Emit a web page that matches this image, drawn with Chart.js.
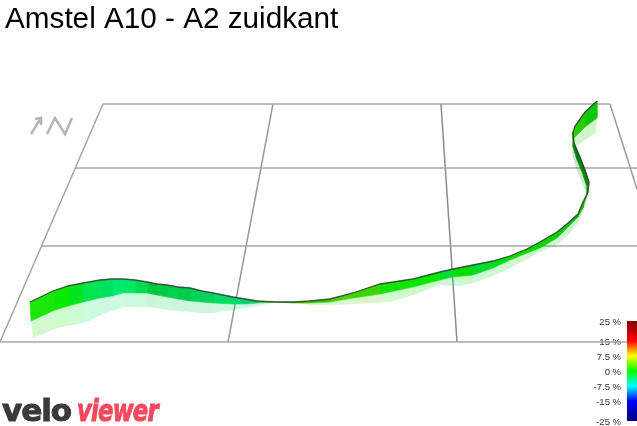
<!DOCTYPE html>
<html>
<head>
<meta charset="utf-8">
<title>Amstel A10 - A2 zuidkant</title>
<script src="https://cdn.jsdelivr.net/npm/chart.js@4"></script>
<style>
  html, body { margin: 0; padding: 0; background: #fff; overflow: hidden; }
  canvas { display: block; }
</style>
</head>
<body>
<canvas id="routeChart" width="637" height="426"></canvas>
<script>
// Text
var chartTitle = 'Amstel A10 - A2 zuidkant';
var logoParts = ['velo', 'viewer'];

// Ribbon outline (start of the climb to the end)
var topX = [30, 53, 68, 83, 100, 112, 123, 135, 147, 157, 167, 178, 190, 202, 213, 233, 245, 257, 275, 293, 310, 330, 353, 380, 413, 440, 453, 473, 493, 510, 527, 540, 557, 568, 578, 583, 588, 589, 585, 580, 574, 573, 575, 585, 597];
var topY = [302, 291, 286, 283, 280, 279, 279, 280, 282, 284, 285, 287, 288, 291, 293, 297, 299, 301, 302, 302, 301, 299, 293, 284, 279, 272, 269, 265, 261, 256, 249, 242, 232, 223, 214, 202, 192, 182, 170, 157, 143, 132, 126, 112, 101];
var baseX = [31, 55, 68, 83, 100, 112, 123, 135, 147, 157, 167, 178, 190, 202, 213, 233, 245, 257, 275, 293, 310, 330, 353, 380, 413, 440, 453, 473, 493, 510, 527, 540, 557, 568, 578, 583, 587, 587, 582, 577, 573, 573, 574, 585, 597];
var baseY = [321, 310, 306, 302, 298, 296, 293, 293, 293, 295, 297, 299, 301, 302, 303, 304, 304, 303, 302, 303, 303, 302, 298, 294, 287, 280, 277, 275, 268, 260, 253, 248, 238, 227, 217, 208, 195, 187, 172, 160, 147, 138, 138, 127, 118];
var shadeX = [33, 57, 72, 87, 100, 112, 123, 135, 147, 157, 167, 178, 190, 202, 213, 233, 245, 257, 275, 293, 310, 330, 353, 390, 413, 440, 460, 473, 493, 510, 527, 540, 557, 568, 578, 583, 587, 586, 580, 575, 572, 575, 575, 585, 596];
var shadeY = [338, 328, 325, 322, 315, 311, 307, 307, 307, 308, 310, 311, 312, 313, 313, 310, 308, 306, 303, 303, 305, 305, 304, 302, 295, 285, 286, 283, 276, 268, 259, 252, 245, 235, 223, 212, 200, 192, 178, 165, 153, 147, 147, 140, 133];
var stripColors = ['#1ae60a', '#0ce800', '#00e61e', '#00e650', '#00e060', '#00e872', '#00e86a', '#00dc50', '#00c83c', '#00cc44', '#00d24e', '#00cc4a', '#00d458', '#00d25a', '#00dc64', '#00d870', '#00d060', '#20cc30', '#30c000', '#40c000', '#38c800', '#48d400', '#3cd400', '#10e400', '#00e800', '#00dc30', '#00e000', '#00dc2c', '#00e010', '#14d800', '#00d800', '#10d000', '#00c810', '#00c000', '#10c000', '#20c800', '#00a800', '#008c00', '#008800', '#008000', '#00b000', '#30d000', '#24cc00', '#10c800'];

// Floor grid and compass marks
var gridLinesX = [[103, 610], [75, 637], [42, 637], [0, 637], [103, 0], [610, 637], [273, 228], [441, 457]];
var gridLinesY = [[104, 104], [168, 168], [246, 246], [342, 342], [104, 342], [104, 189], [104, 342], [104, 342]];
var gridColors = ['#a6a6a6', '#a6a6a6', '#a6a6a6', '#a6a6a6', '#a6a6a6', '#999999', '#999999', '#8c8c8c'];
var compassX = [[31, 41], [35, 41, 41], [47, 55, 65, 72]];
var compassY = [[134, 118], [119, 118, 125], [134, 118, 134, 118]];

// Colour key
var keyTicks = [25, 15, 7.5, 0, -7.5, -15, -25];
var keyStops = ['#800000', '#ff0000', '#ff9000', '#ffff00', '#00ff00', '#00ffff', '#0000ff', '#000080'];
var keyStopValues = [25, 15, 11, 7.5, 0, -7.5, -15, -25];

function pts(xs, ys) {
  return xs.map(function(x, i) { return { x: x, y: ys[i] }; });
}

function quad(x1, y1, x2, y2, i) {
  return [
    { x: x1[i], y: y1[i] }, { x: x1[i + 1], y: y1[i + 1] },
    { x: x2[i + 1], y: y2[i + 1] }, { x: x2[i], y: y2[i] }, { x: x1[i], y: y1[i] }
  ];
}

function plainLine(data, color, width, order) {
  return {
    data: data, borderColor: color, borderWidth: width, order: order,
    pointRadius: 0, fill: false, tension: 0, showLine: true
  };
}

var datasets = [];

// grid at the back
gridLinesX.forEach(function(xs, i) {
  datasets.push(plainLine(pts(xs, gridLinesY[i]), gridColors[i], 1.5, 100));
});
compassX.forEach(function(xs, i) {
  datasets.push(plainLine(pts(xs, compassY[i]), '#b4b4b4', 2.5, 100));
});

// shadow strips, then ribbon strips on top
stripColors.forEach(function(color, i) {
  datasets.push({
    data: quad(baseX, baseY, shadeX, shadeY, i), backgroundColor: color + '33', borderWidth: 0,
    fill: 'shape', pointRadius: 0, showLine: true, order: 50
  });
  datasets.push({
    data: quad(topX, topY, baseX, baseY, i), backgroundColor: color, borderColor: color, borderWidth: 0.6,
    fill: 'shape', pointRadius: 0, showLine: true, order: 20
  });
});

// dark edge along the top of the ribbon
datasets.push(plainLine(pts(topX, topY), 'rgba(50,50,50,0.8)', 1.3, 10));

// colour key bar, on its own axis
datasets.push({
  data: [{ x: 632, y: -25 }, { x: 632, y: 25 }],
  yAxisID: 'key', order: 5, pointRadius: 0, showLine: true, borderWidth: 10, borderCapStyle: 'butt',
  borderColor: function(context) {
    var scale = context.chart.scales.key;
    if (!scale) return '#000';
    var top = scale.getPixelForValue(25);
    var bottom = scale.getPixelForValue(-25);
    if (!isFinite(top) || !isFinite(bottom)) return '#000';
    var g = context.chart.ctx.createLinearGradient(0, top, 0, bottom);
    keyStops.forEach(function(c, i) {
      g.addColorStop((25 - keyStopValues[i]) / 50, c);
    });
    return g;
  }
});

// title and logo text
var textPlugin = {
  id: 'textPlugin',
  afterDraw: function(chart) {
    var ctx = chart.ctx;
    ctx.save();
    ctx.textAlign = 'left';
    ctx.textBaseline = 'alphabetic';
    ctx.fillStyle = '#000';
    ctx.font = '29.7px "Liberation Sans", Arial, sans-serif';
    ctx.fillText(chartTitle, 5, 28);
    ctx.font = 'bold 31px "DejaVu Sans", sans-serif';
    ctx.letterSpacing = '-1px';
    ctx.lineWidth = 1;
    ctx.fillStyle = ctx.strokeStyle = '#3a3a3a';
    ctx.fillText(logoParts[0], 2, 421);
    ctx.strokeText(logoParts[0], 2, 421);
    // the red half of the logo is narrower than the dark half
    ctx.font = 'italic bold 31px "DejaVu Sans", sans-serif';
    ctx.fillStyle = ctx.strokeStyle = '#f4485c';
    ctx.translate(77, 421);
    ctx.scale(0.73, 1);
    ctx.fillText(logoParts[1], 0, 0);
    ctx.strokeText(logoParts[1], 0, 0);
    ctx.restore();
  }
};

var ctx = document.getElementById('routeChart').getContext('2d');
new Chart(ctx, {
  type: 'scatter',
  data: { datasets: datasets },
  plugins: [textPlugin],
  options: {
    responsive: false,
    animation: false,
    devicePixelRatio: 1,
    layout: { padding: 0 },
    plugins: { legend: { display: false }, title: { display: false }, tooltip: { enabled: false } },
    scales: {
      x: { type: 'linear', min: 0, max: 637, display: false },
      y: { type: 'linear', min: 0, max: 426, reverse: true, display: false },
      key: {
        type: 'linear',
        axis: 'y',
        position: { x: 621 },
        min: -27.5,
        max: 185.5,
        grid: { display: false, drawTicks: false },
        border: { display: false },
        afterBuildTicks: function(axis) {
          axis.ticks = keyTicks.map(function(v) { return { value: v }; });
        },
        afterFit: function(axis) {
          // the key labels must not shrink the chart area
          axis.paddingTop = 0;
          axis.paddingBottom = 0;
        },
        ticks: {
          autoSkip: false,
          padding: 0,
          labelOffset: 1,
          color: '#333',
          font: { family: '"Liberation Sans", Arial, sans-serif', size: 9.5 },
          callback: function(v) { return v + ' %'; }
        }
      }
    }
  }
});
</script>
</body>
</html>
